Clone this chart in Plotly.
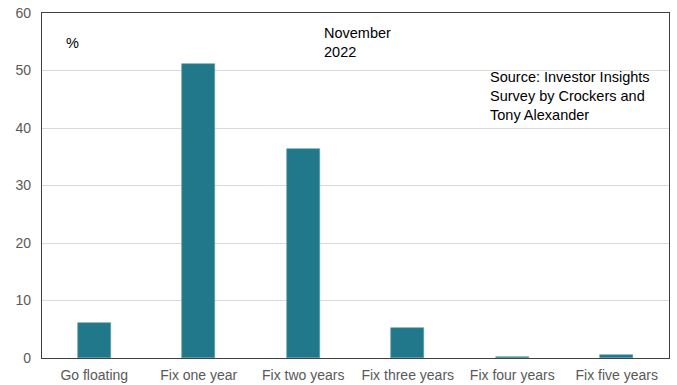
import plotly.graph_objects as go

categories = ["Go floating", "Fix one year", "Fix two years", "Fix three years",
              "Fix four years", "Fix five years"]
shares = [6.1, 51.1, 36.3, 5.2, 0.2, 0.45]
y_ticks = [0, 10, 20, 30, 40, 50, 60]

W, H = 677, 385
L, R, T, B = 42, 8, 13, 27

fig = go.Figure(go.Bar(
    x=categories, y=shares, width=0.32,
    marker=dict(color="#21788A", line=dict(color="#5B9AA8", width=0.6)),
    hoverinfo="x+y",
))

font = dict(family="Liberation Sans, Arial, sans-serif", size=14, color="#595959")

fig.update_layout(
    width=W, height=H,
    margin=dict(l=L, r=R, t=T, b=B, autoexpand=False),
    paper_bgcolor="white", plot_bgcolor="white",
    showlegend=False,
    font=font,
    bargap=0,
    xaxis=dict(showline=True, linecolor="#404040", linewidth=1.2, mirror=True,
               ticks="", showgrid=False, tickfont=font, ticklabelstandoff=4,
               automargin=False),
    yaxis=dict(range=[0, 60], tickvals=y_ticks, showline=True, linecolor="#404040",
               linewidth=1.2, mirror=True, ticks="", showgrid=True,
               gridcolor="#D9D9D9", gridwidth=1, zeroline=False, tickfont=font,
               ticklabelstandoff=7, automargin=False),
)

txt = dict(family="Liberation Sans, Arial, sans-serif", size=14.5, color="#000000")
fig.add_annotation(xref="paper", yref="paper", x=(64 - L) / (W - L - R),
                   y=1 - (43 - T) / (H - T - B), text="%", showarrow=False,
                   xanchor="left", yanchor="middle", font=txt)
fig.add_annotation(xref="paper", yref="paper", x=(322 - L) / (W - L - R),
                   y=1 - (23 - T) / (H - T - B), text="November<br>2022",
                   showarrow=False, xanchor="left", yanchor="top", align="left",
                   font=txt)
fig.add_annotation(xref="paper", yref="paper", x=(488 - L) / (W - L - R),
                   y=1 - (67 - T) / (H - T - B),
                   text="Source: Investor Insights<br>Survey by Crockers and<br>Tony Alexander",
                   showarrow=False, xanchor="left", yanchor="top", align="left",
                   font=txt)

fig.write_html("out.html")
